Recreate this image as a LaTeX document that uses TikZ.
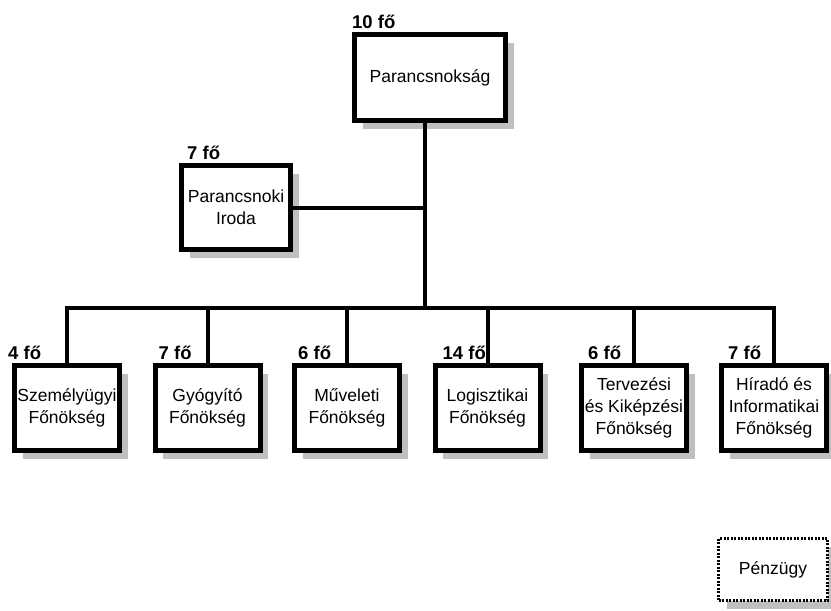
\documentclass[tikz,border=0pt]{standalone}
\usepackage{fontspec}
\setmainfont{Liberation Sans}
\usetikzlibrary{positioning,shadows}

\begin{document}
\begin{tikzpicture}[x=1pt, y=-1pt,
    egyseg/.style={rectangle, draw, line width=5pt, fill=white, minimum width=105pt, minimum height=85pt, align=center, inner sep=1pt, font=\fontsize{17.5}{22}\selectfont, drop shadow={shadow xshift=8pt, shadow yshift=-8pt, fill=black!25, opacity=1}},
    kulso/.style={egyseg, line width=2.5pt, dash pattern=on 2pt off 1.5pt, minimum width=109pt, minimum height=62pt},
    letszam/.style={inner sep=0pt, font=\bfseries\fontsize{18.5}{20}\selectfont},
    vonal/.style={line width=4pt}
]
    \useasboundingbox (0,0) rectangle (831,611);

    % Vezetés
    \node[egyseg, minimum width=151pt, minimum height=86pt] (parancs) at (430,77.5) {Parancsnokság};
    \node[egyseg, minimum width=109pt, minimum height=84pt] (iroda) at (236,207.5) {Parancsnoki\\Iroda};

    % Főnökségek
    \node[egyseg] (szemely) at (67,408) {Személyügyi\\Főnökség};
    \node[egyseg] (gyogyito) at (207.5,408) {Gyógyító\\Főnökség};
    \node[egyseg] (muveleti) at (347,408) {Műveleti\\Főnökség};
    \node[egyseg] (logisztika) at (487.5,408) {Logisztikai\\Főnökség};
    \node[egyseg] (tervezes) at (634,408) {Tervezési\\és Kiképzési\\Főnökség};
    \node[egyseg] (hirado) at (774,408) {Híradó és\\Informatikai\\Főnökség};

    \node[kulso] (penzugy) at (773,569.5) {Pénzügy};

    % Létszámok
    \node[letszam, above right=3pt and 0pt of parancs.north west] (fo-parancs) {10 fő};
    \node[letszam, above right=3pt and 8pt of iroda.north west] (fo-iroda) {7 fő};
    \node[letszam, above right=3pt and -4pt of szemely.north west] (fo-szemely) {4 fő};
    \node[letszam, above right=3pt and 6pt of gyogyito.north west] (fo-gyogyito) {7 fő};
    \node[letszam, above right=3pt and 6pt of muveleti.north west] (fo-muveleti) {6 fő};
    \node[letszam, above right=3pt and 10pt of logisztika.north west] (fo-logisztika) {14 fő};
    \node[letszam, above right=3pt and 9pt of tervezes.north west] (fo-tervezes) {6 fő};
    \node[letszam, above right=3pt and 9pt of hirado.north west] (fo-hirado) {7 fő};

    % Összekötő vonalak
    \coordinate (elag) at (425,308);
    \draw[vonal] (elag |- parancs.south) -- (elag);
    \draw[vonal] (iroda.east) -- (iroda.east -| elag);
    \draw[vonal] (szemely.north) |- (elag) -| (hirado.north);
    \foreach \f in {gyogyito, muveleti, logisztika, tervezes}
        \draw[vonal] (\f.north) -- (\f.north |- elag);
\end{tikzpicture}
\end{document}
